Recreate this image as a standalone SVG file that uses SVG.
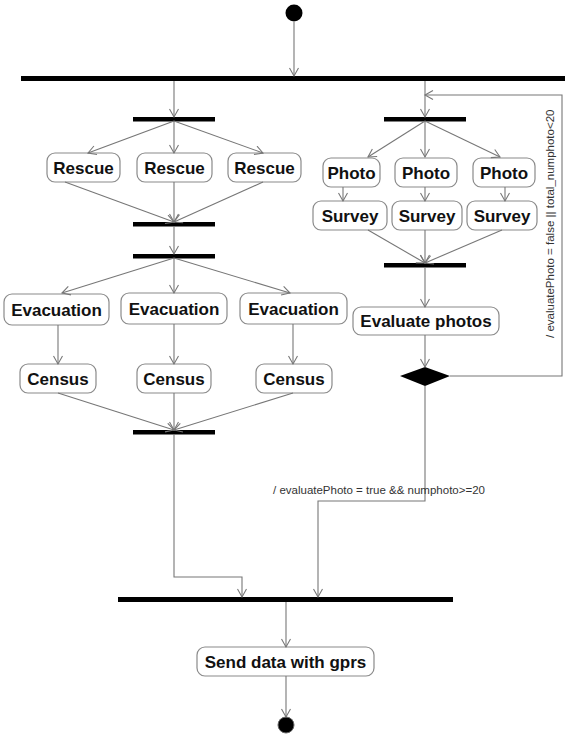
<svg xmlns="http://www.w3.org/2000/svg" width="565" height="737" viewBox="0 0 565 737">
<style>
.bar{fill:#000}
.box{fill:#fff;stroke:#8a8a8a;stroke-width:1.2}
.lbl{font-family:"Liberation Sans",Arial,sans-serif;font-weight:bold;font-size:17px;fill:#111;text-anchor:middle}
.c{fill:none;stroke:#777;stroke-width:1.1;marker-end:url(#arr)}
.cn{fill:none;stroke:#777;stroke-width:1.1}
.g{font-family:"Liberation Sans",Arial,sans-serif;font-size:11.5px;fill:#333}
</style>
<defs>
<marker id="arr" markerUnits="userSpaceOnUse" markerWidth="12" markerHeight="12" refX="9" refY="5" orient="auto">
<path d="M1,0.5 L9,5 L1,9.5" fill="none" stroke="#777" stroke-width="1.1"/>
</marker>
</defs>
<g id="start"><circle cx="294" cy="13" r="8.5" fill="#000"/></g>
<g id="bars">
<rect id="forkTop" class="bar" x="21" y="76" width="544" height="5"/>
<rect id="forkRescue" class="bar" x="133" y="117" width="82" height="4.5"/>
<rect id="joinRescue" class="bar" x="133" y="222" width="82" height="4.5"/>
<rect id="forkEvac" class="bar" x="133" y="254" width="82" height="4.5"/>
<rect id="joinEvac" class="bar" x="133" y="430" width="82" height="4.5"/>
<rect id="forkPhoto" class="bar" x="384" y="117" width="82" height="4.5"/>
<rect id="joinPhoto" class="bar" x="384" y="263" width="82" height="4.5"/>
<rect id="joinAll" class="bar" x="118" y="597" width="335" height="5"/>
</g>
<g id="rescue1"><rect class="box" x="47" y="153" width="73" height="29" rx="8"/><text class="lbl" x="83.5" y="173.5">Rescue</text></g>
<g id="rescue2"><rect class="box" x="137" y="153" width="75" height="29" rx="8"/><text class="lbl" x="174.5" y="173.5">Rescue</text></g>
<g id="rescue3"><rect class="box" x="228" y="153" width="73" height="29" rx="8"/><text class="lbl" x="264.5" y="173.5">Rescue</text></g>
<g id="photo1"><rect class="box" x="323" y="158" width="57" height="29" rx="8"/><text class="lbl" x="351.5" y="178.5">Photo</text></g>
<g id="photo2"><rect class="box" x="395" y="158" width="62" height="29" rx="8"/><text class="lbl" x="426" y="178.5">Photo</text></g>
<g id="photo3"><rect class="box" x="473" y="158" width="62" height="29" rx="8"/><text class="lbl" x="504" y="178.5">Photo</text></g>
<g id="survey1"><rect class="box" x="313" y="201" width="74" height="29" rx="8"/><text class="lbl" x="350" y="221.5">Survey</text></g>
<g id="survey2"><rect class="box" x="392" y="201" width="70" height="29" rx="8"/><text class="lbl" x="427" y="221.5">Survey</text></g>
<g id="survey3"><rect class="box" x="467" y="201" width="70" height="29" rx="8"/><text class="lbl" x="502" y="221.5">Survey</text></g>
<g id="evac1"><rect class="box" x="4" y="294" width="105" height="31" rx="8"/><text class="lbl" x="56.5" y="315.5">Evacuation</text></g>
<g id="evac2"><rect class="box" x="121" y="293" width="106" height="31" rx="8"/><text class="lbl" x="174" y="314.5">Evacuation</text></g>
<g id="evac3"><rect class="box" x="240" y="293" width="107" height="31" rx="8"/><text class="lbl" x="293.5" y="314.5">Evacuation</text></g>
<g id="census1"><rect class="box" x="20" y="364" width="76" height="29" rx="8"/><text class="lbl" x="58" y="384.5">Census</text></g>
<g id="census2"><rect class="box" x="137" y="364" width="74" height="29" rx="8"/><text class="lbl" x="174" y="384.5">Census</text></g>
<g id="census3"><rect class="box" x="256" y="364" width="76" height="29" rx="8"/><text class="lbl" x="294" y="384.5">Census</text></g>
<g id="evaluate"><rect class="box" x="353" y="307" width="146" height="28" rx="8"/><text class="lbl" x="426" y="327">Evaluate photos</text></g>
<g id="decision"><path d="M400,376 L425,367 L450,376 L425,386 Z" fill="#000"/></g>
<g id="send"><rect class="box" x="197" y="647" width="177" height="29" rx="8"/><text class="lbl" x="285.5" y="667.5">Send data with gprs</text></g>
<g id="end"><circle cx="286" cy="725" r="8" fill="#000" stroke="#666" stroke-width="1"/></g>
<g id="connectors">
<path class="c" d="M294,22 V76"/>
<path class="c" d="M174,81 V117"/>
<path class="c" d="M425,81 V117"/>
<path class="c" d="M174,121 L88,153"/>
<path class="c" d="M174,121 V153"/>
<path class="c" d="M174,121 L263,153"/>
<path class="c" d="M65,182 L174,222"/>
<path class="c" d="M174,182 V222"/>
<path class="c" d="M263,182 L174,222"/>
<path class="c" d="M174,226 V254"/>
<path class="c" d="M174,258 L62,293"/>
<path class="c" d="M174,258 V293"/>
<path class="c" d="M174,258 L290,293"/>
<path class="c" d="M58,325 V364"/>
<path class="c" d="M174,324 V364"/>
<path class="c" d="M293,324 V364"/>
<path class="c" d="M58,393 L174,430"/>
<path class="c" d="M174,393 V430"/>
<path class="c" d="M293,393 L174,430"/>
<path class="c" d="M174,434 V577 H242 V597"/>
<path class="c" d="M425,121 L368,157"/>
<path class="c" d="M425,121 V157"/>
<path class="c" d="M425,121 L500,157"/>
<path class="c" d="M343,187 V201"/>
<path class="c" d="M425,187 V201"/>
<path class="c" d="M505,187 V201"/>
<path class="c" d="M368,230 L425,263"/>
<path class="c" d="M425,230 V263"/>
<path class="c" d="M502,230 L425,263"/>
<path class="c" d="M425,267 V307"/>
<path class="c" d="M425,335 V367"/>
<path class="c" d="M450,376 H562 V95 H425"/>
<path class="c" d="M425,386 V501 H318 V597"/>
<path class="c" d="M286,602 V647"/>
<path class="c" d="M286,676 V717"/>
<text class="g" transform="translate(554,338) rotate(-90)">/ evaluatePhoto = false || total_numphoto&lt;20</text>
<text class="g" x="273" y="494">/ evaluatePhoto = true &amp;&amp; numphoto&gt;=20</text>
</g>
</svg>
